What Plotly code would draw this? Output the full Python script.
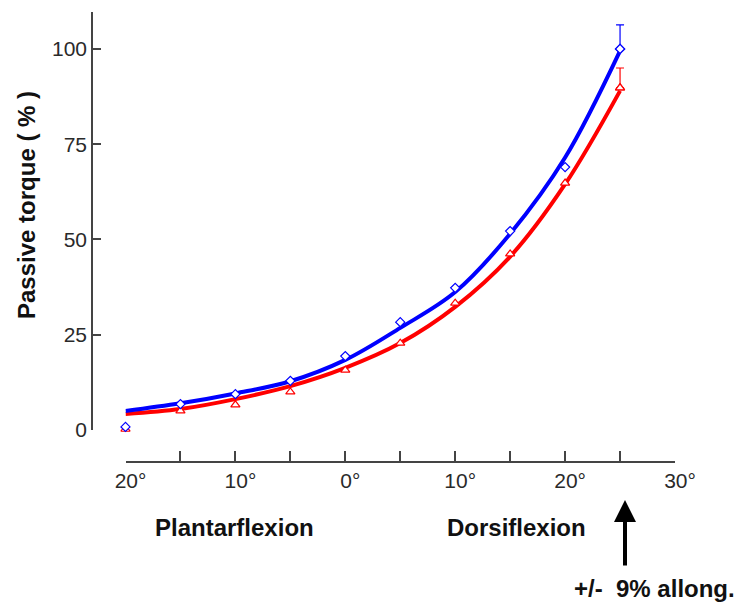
import plotly.graph_objects as go

# Data
angles = [-20, -15, -10, -5, 0, 5, 10, 15, 20, 25]
blue_points = [0.8, 6.8, 9.4, 12.9, 19.4, 28.3, 37.3, 52.2, 69.0, 100.0]
red_points = [0.2, 5.0, 6.6, 10.0, 15.7, 22.8, 33.3, 46.2, 64.8, 89.8]
blue_curve = [5.0, 7.0, 9.6, 12.8, 18.4, 26.8, 36.2, 51.5, 71.5, 99.5]
red_curve = [4.2, 5.5, 8.1, 11.5, 16.3, 22.8, 32.3, 45.5, 64.5, 89.0]
err_angle = [25]
blue_err = [6.3]
red_err = [5.2]
x_tickvals = [-20, -15, -10, -5, 0, 5, 10, 15, 20, 25, 30]
x_ticktext = ["20°", "", "10°", "", "0°", "", "10°", "", "20°", "", "30°"]
y_tickvals = [0, 25, 50, 75, 100]

BLUE = "#0000FF"
RED = "#FF0000"
AX = "#444444"
FONT = "Liberation Sans, Arial, sans-serif"

fig = go.Figure()

fig.add_trace(go.Scatter(x=angles, y=red_curve, mode="lines",
                         line=dict(color=RED, width=4, shape="spline"), hoverinfo="skip"))
fig.add_trace(go.Scatter(x=angles, y=blue_curve, mode="lines",
                         line=dict(color=BLUE, width=4, shape="spline"), hoverinfo="skip"))

fig.add_trace(go.Scatter(x=angles, y=red_points, mode="markers", cliponaxis=False,
                         marker=dict(symbol="triangle-up", size=8, color="white",
                                     line=dict(color=RED, width=1.2))))
fig.add_trace(go.Scatter(x=angles, y=blue_points, mode="markers", cliponaxis=False,
                         marker=dict(symbol="diamond", size=7, color="white",
                                     line=dict(color=BLUE, width=1.2))))

fig.add_trace(go.Scatter(x=err_angle, y=[red_points[-1]], mode="markers", cliponaxis=False,
                         marker=dict(symbol="triangle-up", size=8, color="white",
                                     line=dict(color=RED, width=1.2)),
                         error_y=dict(type="data", array=red_err, arrayminus=[0],
                                      symmetric=False, color=RED, thickness=1.2, width=4)))
fig.add_trace(go.Scatter(x=err_angle, y=[blue_points[-1]], mode="markers", cliponaxis=False,
                         marker=dict(symbol="diamond", size=7, color="white",
                                     line=dict(color=BLUE, width=1.2)),
                         error_y=dict(type="data", array=blue_err, arrayminus=[0],
                                      symmetric=False, color=BLUE, thickness=1.2, width=4)))

L, R, T, B = 92, 64, 12, 148
W, H = 739, 610
pw = W - L - R
ph = H - T - B


def px(xp):
    return (xp - L) / pw


def py(yp):
    return (H - B - yp) / ph


fig.update_layout(
    width=W, height=H,
    margin=dict(l=L, r=R, t=T, b=B, pad=0),
    paper_bgcolor="white", plot_bgcolor="white",
    showlegend=False,
    font=dict(family=FONT, color="#222222"),
    xaxis=dict(domain=[px(125.5), 1], range=[-20, 30], anchor="free", position=0,
               tickmode="array", tickvals=x_tickvals, ticktext=x_ticktext,
               ticks="inside", ticklen=10, tickwidth=1.5, tickcolor=AX,
               showline=True, linecolor=AX, linewidth=1.5,
               showgrid=False, zeroline=False,
               tickfont=dict(size=21, family=FONT, color="#2a2a2a"),
               ticklabelshift=5),
    yaxis=dict(domain=[py(430), 1], range=[0, 109.7], anchor="free", position=0,
               tickmode="array", tickvals=y_tickvals,
               ticks="inside", ticklen=8, tickwidth=1.5, tickcolor=AX,
               showline=True, linecolor=AX, linewidth=1.5,
               showgrid=False, zeroline=False,
               tickfont=dict(size=21, family=FONT, color="#2a2a2a")),
)

bold = dict(family=FONT, size=24, color="#111111")

fig.add_annotation(text="<b>Passive torque ( % )</b>", xref="paper", yref="paper",
                   x=px(26), y=py(205), textangle=-90, showarrow=False,
                   font=bold, xanchor="center", yanchor="middle")
fig.add_annotation(text="<b>Plantarflexion</b>", xref="paper", yref="paper",
                   x=px(234), y=py(527), showarrow=False, font=bold,
                   xanchor="center", yanchor="middle")
fig.add_annotation(text="<b>Dorsiflexion</b>", xref="paper", yref="paper",
                   x=px(516), y=py(527), showarrow=False, font=bold,
                   xanchor="center", yanchor="middle")
fig.add_annotation(text="<b>+/-&nbsp; 9% allong.</b>", xref="paper", yref="paper",
                   x=px(737), y=py(588), showarrow=False, font=bold,
                   xanchor="right", yanchor="middle")
fig.add_annotation(text="", xref="paper", yref="paper",
                   x=px(625), y=py(500), ax=0, ay=67,
                   showarrow=True, arrowhead=2, arrowsize=1.1, arrowwidth=4,
                   arrowcolor="#000000")

fig.write_html("out.html", config={"displayModeBar": False},
               post_script="document.body.style.margin='0';document.body.style.overflow='hidden';")
